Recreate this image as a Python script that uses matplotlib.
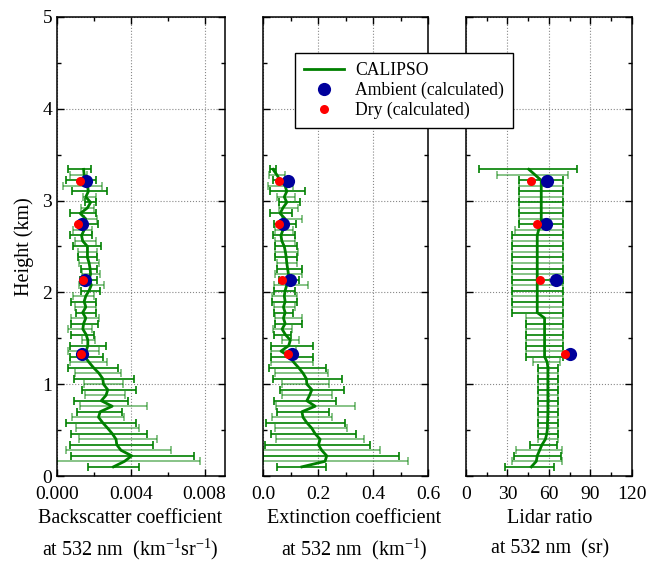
import numpy as np
import matplotlib.pyplot as plt
from matplotlib.lines import Line2D
from matplotlib.ticker import MultipleLocator

plt.rcParams["font.family"] = ["Liberation Serif", "DejaVu Serif"]
plt.rcParams["mathtext.fontset"] = "custom"
plt.rcParams["mathtext.rm"] = "Liberation Serif"
plt.rcParams["mathtext.it"] = "Liberation Serif:italic"

# CALIPSO levels (km)
height = [0.10, 0.16, 0.22, 0.28, 0.34, 0.40, 0.46, 0.52, 0.58, 0.64, 0.70,
          0.76, 0.82, 0.88, 0.94, 1.00, 1.06, 1.12, 1.18, 1.24, 1.30, 1.36,
          1.42, 1.48, 1.54, 1.60, 1.66, 1.72, 1.78, 1.84, 1.90, 1.96, 2.02,
          2.08, 2.14, 2.20, 2.26, 2.32, 2.38, 2.44, 2.50, 2.56, 2.62, 2.68,
          2.74, 2.80, 2.86, 2.92, 2.98, 3.04, 3.10, 3.16, 3.22, 3.28, 3.34]

# backscatter (1e-3 km-1 sr-1): mean, lower, upper
bsc = [3.06, 3.66, 4.05, 3.47, 3.24, 3.20, 3.00, 2.75, 2.48, 2.25, 2.34,
       2.99, 2.40, 2.66, 2.75, 2.52, 2.48, 2.27, 1.98, 1.73, 1.51, 1.58,
       1.67, 1.67, 1.58, 1.40, 1.44, 1.56, 1.39, 1.56, 1.47, 1.56, 1.74,
       1.86, 1.74, 1.82, 1.79, 1.74, 1.65, 1.65, 1.65, 1.39, 1.33, 1.47,
       1.33, 1.56, 1.26, 1.65, 1.82, 1.56, 1.70, 1.65, 1.51, 1.47, 1.44]
bsc_lo = [1.68, 0.00, 0.77, 0.50, 0.68, 1.20, 0.77, 1.04, 0.47, 0.83, 1.10,
          1.22, 0.92, 1.50, 1.37, 1.44, 0.90, 1.00, 0.58, 0.68, 0.70, 0.60,
          0.72, 1.35, 0.77, 0.60, 0.77, 0.77, 1.03, 0.95, 0.77, 0.86, 1.30,
          1.21, 1.26, 1.33, 1.30, 1.21, 1.12, 1.12, 0.86, 0.95, 0.72, 0.86,
          1.12, 1.44, 0.68, 1.30, 1.53, 1.39, 0.81, 0.33, 0.51, 0.68, 0.60]
bsc_hi = [4.43, 7.76, 7.44, 6.20, 5.20, 5.40, 4.90, 4.43, 4.28, 3.62, 3.50,
          4.88, 3.83, 3.67, 4.28, 3.60, 4.18, 3.47, 3.31, 2.70, 2.50, 2.30,
          2.63, 2.05, 2.00, 1.90, 2.20, 2.26, 2.09, 2.09, 2.09, 2.00, 2.35,
          2.53, 2.18, 2.32, 2.18, 2.26, 2.18, 2.18, 2.39, 2.09, 1.88, 1.91,
          2.23, 2.18, 2.09, 2.03, 2.14, 2.09, 2.70, 2.44, 2.09, 1.65, 1.82]

# extinction (km-1): mean, lower, upper
ext = [0.141, 0.225, 0.231, 0.213, 0.201, 0.207, 0.189, 0.177, 0.159, 0.145,
       0.141, 0.189, 0.159, 0.169, 0.177, 0.159, 0.157, 0.145, 0.129, 0.111,
       0.096, 0.065, 0.093, 0.099, 0.081, 0.069, 0.080, 0.074, 0.080, 0.074,
       0.080, 0.077, 0.080, 0.086, 0.096, 0.092, 0.089, 0.086, 0.084, 0.081,
       0.077, 0.068, 0.065, 0.072, 0.068, 0.080, 0.062, 0.072, 0.086, 0.077,
       0.086, 0.080, 0.062, 0.050, 0.036]
ext_lo = [0.051, 0.000, 0.000, 0.000, 0.006, 0.048, 0.027, 0.042, 0.012, 0.033,
          0.051, 0.048, 0.039, 0.070, 0.063, 0.070, 0.035, 0.042, 0.021, 0.029,
          0.030, 0.030, 0.029, 0.069, 0.039, 0.036, 0.045, 0.044, 0.038, 0.038,
          0.032, 0.032, 0.038, 0.038, 0.056, 0.044, 0.050, 0.050, 0.044, 0.044,
          0.044, 0.044, 0.036, 0.044, 0.038, 0.068, 0.026, 0.056, 0.056, 0.050,
          0.026, 0.017, 0.035, 0.020, 0.026]
ext_hi = [0.230, 0.526, 0.493, 0.425, 0.387, 0.366, 0.336, 0.304, 0.296, 0.251,
          0.239, 0.333, 0.265, 0.251, 0.293, 0.239, 0.287, 0.235, 0.227, 0.182,
          0.180, 0.120, 0.180, 0.129, 0.102, 0.105, 0.141, 0.140, 0.110, 0.116,
          0.122, 0.122, 0.116, 0.164, 0.130, 0.140, 0.140, 0.122, 0.122, 0.125,
          0.122, 0.116, 0.116, 0.110, 0.120, 0.140, 0.104, 0.128, 0.134, 0.116,
          0.152, 0.110, 0.095, 0.080, 0.048]

# lidar ratio (sr): mean, lower, upper
lr = [47.3, 50.9, 51.6, 53.3, 55.0, 57.5, 58.5, 59.0, 59.0, 59.2, 59.3,
      59.3, 59.3, 59.3, 59.3, 59.3, 59.3, 59.3, 59.3, 58.8, 56.9, 56.9,
      56.9, 56.9, 56.9, 56.9, 56.9, 56.9, 51.6, 51.6, 51.6, 51.6, 51.6,
      51.6, 51.6, 51.6, 51.6, 51.6, 51.6, 51.6, 51.6, 51.6, 51.6, 52.6,
      54.5, 54.5, 54.5, 54.5, 54.5, 54.5, 54.5, 54.5, 54.5, 50.0, 45.5]
lr_lo = [28.0, 33.6, 34.6, 36.5, 46.0, 52.0, 52.0, 52.0, 52.0, 52.0, 52.0,
         52.0, 52.0, 52.0, 52.0, 52.0, 52.0, 52.0, 52.0, 48.5, 43.7, 43.7,
         43.7, 43.7, 43.7, 43.7, 43.7, 43.7, 33.6, 33.6, 33.6, 33.6, 33.6,
         33.6, 33.6, 33.6, 33.6, 33.6, 33.6, 33.6, 33.6, 33.6, 33.6, 35.3,
         38.4, 38.4, 38.4, 38.4, 38.4, 38.4, 38.4, 38.4, 38.4, 22.6, 9.6]
lr_hi = [64.0, 69.4, 68.9, 69.6, 66.0, 66.5, 66.5, 66.5, 66.5, 66.5, 66.5,
         66.5, 66.5, 66.5, 66.5, 66.5, 66.5, 66.5, 66.5, 67.7, 70.3, 70.3,
         70.3, 70.3, 70.3, 70.3, 70.3, 70.3, 70.3, 70.3, 70.3, 70.3, 70.3,
         70.3, 70.3, 70.3, 70.3, 70.3, 70.3, 70.3, 70.3, 70.3, 70.3, 70.3,
         70.3, 70.3, 70.3, 70.3, 70.3, 70.3, 70.3, 70.3, 70.3, 74.2, 80.4]

# calculated values at four heights
calc_height = [1.33, 2.14, 2.74, 3.21]
amb_bsc = [1.37, 1.51, 1.33, 1.56]
dry_bsc = [1.28, 1.40, 1.16, 1.26]
amb_ext = [0.105, 0.096, 0.072, 0.089]
dry_ext = [0.090, 0.068, 0.056, 0.056]
amb_lr = [75.6, 65.3, 58.1, 58.8]
dry_lr = [71.8, 53.8, 51.6, 47.3]

GREEN = "#008000"
BLUE = "#00009c"
RED = "#ff0000"

fig = plt.figure(figsize=(6.48, 5.64), dpi=100)
bottom, height_ax = 0.156, 0.814
ax1 = fig.add_axes([0.088, bottom, 0.259, height_ax])
ax2 = fig.add_axes([0.406, bottom, 0.255, height_ax])
ax3 = fig.add_axes([0.719, bottom, 0.256, height_ax])

h = np.array(height)
panels = [
    (ax1, np.array(bsc) * 1e-3, np.array(bsc_lo) * 1e-3, np.array(bsc_hi) * 1e-3,
     np.array(amb_bsc) * 1e-3, np.array(dry_bsc) * 1e-3),
    (ax2, np.array(ext), np.array(ext_lo), np.array(ext_hi),
     np.array(amb_ext), np.array(dry_ext)),
    (ax3, np.array(lr), np.array(lr_lo), np.array(lr_hi),
     np.array(amb_lr), np.array(dry_lr)),
]

for ax, c, lo, hi, amb, dry in panels:
    err = np.vstack([c - lo, hi - c])
    for start, alpha in [(0, 1.0), (1, 0.55)]:
        ax.errorbar(c[start::2], h[start::2], xerr=err[:, start::2], fmt="none",
                    ecolor=GREEN, elinewidth=1.2, capsize=3.2, capthick=1.2,
                    alpha=alpha, zorder=2)
    ax.plot(c, h, color=GREEN, lw=2.0, zorder=3)
    ax.plot(amb, calc_height, "o", color=BLUE, ms=9.5, mec="none", zorder=4)
    ax.plot(dry, calc_height, "o", color=RED, ms=6.5, mec="none", zorder=5)

ax1.set_xlim(0, 0.0091)
ax1.xaxis.set_major_locator(MultipleLocator(0.004))
ax1.xaxis.set_minor_locator(MultipleLocator(0.002))
ax1.xaxis.set_major_formatter(lambda v, p: f"{v:.3f}")
ax2.set_xlim(0, 0.6)
ax2.xaxis.set_major_locator(MultipleLocator(0.2))
ax2.xaxis.set_minor_locator(MultipleLocator(0.1))
ax2.xaxis.set_major_formatter(lambda v, p: f"{v:.1f}")
ax3.set_xlim(0, 120)
ax3.xaxis.set_major_locator(MultipleLocator(30))
ax3.xaxis.set_minor_locator(MultipleLocator(15))

for ax in (ax1, ax2, ax3):
    ax.set_ylim(0, 5)
    ax.yaxis.set_major_locator(MultipleLocator(1))
    ax.yaxis.set_minor_locator(MultipleLocator(0.5))
    ax.grid(True, which="major", ls=":", color="#888888", lw=0.8)
    ax.tick_params(which="both", direction="in", top=True, right=True,
                   labelsize=14, width=1.0)
    ax.tick_params(which="major", length=5)
    ax.tick_params(which="minor", length=3)
    ax.tick_params(axis="x", which="major", pad=7)
    for s in ax.spines.values():
        s.set_linewidth(1.1)
    ax.set_axisbelow(True)

ax2.tick_params(labelleft=False)
ax3.tick_params(labelleft=False)

ax1.set_ylabel("Height (km)", fontsize=14.5, labelpad=6)
ax1.set_xlabel("Backscatter coefficient\nat 532 nm  (km$^{\\mathrm{-1}}$sr$^{\\mathrm{-1}}$)",
               fontsize=14.5, linespacing=1.5)
ax2.set_xlabel("Extinction coefficient\nat 532 nm  (km$^{\\mathrm{-1}}$)",
               fontsize=14.5, linespacing=1.5)
ax3.set_xlabel("Lidar ratio\nat 532 nm  (sr)", fontsize=14.5, linespacing=1.8)
ax1.xaxis.set_label_coords(0.435, -0.071)
ax2.xaxis.set_label_coords(0.55, -0.071)
ax3.xaxis.set_label_coords(0.505, -0.071)

handles = [Line2D([], [], color=GREEN, lw=2.0),
           Line2D([], [], ls="none", marker="o", color=BLUE, ms=9.5, mec="none"),
           Line2D([], [], ls="none", marker="o", color=RED, ms=6.5, mec="none")]
labels = ["CALIPSO", "Ambient (calculated)", "Dry (calculated)"]
leg = fig.legend(handles, labels, loc="upper left", bbox_to_anchor=(0.455, 0.906),
                 borderaxespad=0, fontsize=12.7, fancybox=False, framealpha=1,
                 edgecolor="black", handlelength=2.3, handletextpad=0.6,
                 labelspacing=0.15, borderpad=0.5)
leg.get_frame().set_linewidth(1.0)

fig.savefig("out.png", dpi=100)
